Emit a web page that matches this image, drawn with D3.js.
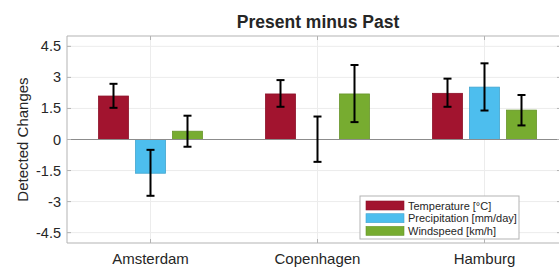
<!DOCTYPE html>
<html>
<head>
<meta charset="utf-8">
<script src="https://cdn.jsdelivr.net/npm/d3@7"></script>
<style>
  body { margin: 0; background: #fff; }
  text { font-family: "Liberation Sans", Arial, Helvetica, sans-serif; fill: #262626; }
</style>
</head>
<body>
<div id="chart"></div>
<script>
// data
const cities = ["Amsterdam", "Copenhagen", "Hamburg"];
const seriesNames = ["Temperature [°C]", "Precipitation [mm/day]", "Windspeed [km/h]"];
const seriesColors = ["#A2142F", "#4DBEEE", "#77AC30"];
const temperature = [2.1, 2.2, 2.23];
const precipitation = [-1.63, 0, 2.53];
const windspeed = [0.4, 2.2, 1.42];
const errLow = [[1.53, 1.58, 1.58], [-2.72, -1.08, 1.4], [-0.35, 0.84, 0.68]];
const errHigh = [[2.69, 2.87, 2.94], [-0.5, 1.11, 3.68], [1.15, 3.6, 2.15]];
const yTicks = [-4.5, -3, -1.5, 0, 1.5, 3, 4.5];

const values = [temperature, precipitation, windspeed];

const w = 559, h = 268;
const padLeft = 67, padTop = 36, padBottom = 243;

const svg = d3.select("#chart").append("svg")
  .attr("width", w).attr("height", h);

const xScale = d3.scaleLinear().domain([0.5, 3.5]).range([padLeft, padLeft + 501]);
const yScale = d3.scaleLinear().domain([-5, 5]).range([padBottom, padTop]);

// grid
svg.append("g").selectAll("line").data(yTicks).enter().append("line")
  .attr("x1", padLeft).attr("x2", w)
  .attr("y1", d => yScale(d)).attr("y2", d => yScale(d))
  .attr("stroke", "#ececec").attr("stroke-width", 1);
svg.append("g").selectAll("line").data(cities).enter().append("line")
  .attr("x1", (d, i) => xScale(i + 1)).attr("x2", (d, i) => xScale(i + 1))
  .attr("y1", padTop).attr("y2", padBottom)
  .attr("stroke", "#ececec").attr("stroke-width", 1);

// bars
const offsets = [-37, 0, 37];
const barW = 30;
values.forEach((vals, s) => {
  svg.append("g").selectAll("rect").data(vals).enter().append("rect")
    .attr("x", (d, i) => xScale(i + 1) + offsets[s] - barW / 2)
    .attr("y", d => yScale(Math.max(0, d)))
    .attr("width", barW)
    .attr("height", d => Math.abs(yScale(d) - yScale(0)))
    .attr("fill", seriesColors[s])
    .attr("stroke", d3.color(seriesColors[s]).darker(0.4))
    .attr("stroke-width", 0.8);
});

// zero line
svg.append("line")
  .attr("x1", padLeft).attr("x2", w)
  .attr("y1", yScale(0)).attr("y2", yScale(0))
  .attr("stroke", "#8c8c8c").attr("stroke-width", 1.2);

// error bars
values.forEach((vals, s) => {
  const g = svg.append("g").attr("stroke", "#000").attr("stroke-width", 2);
  vals.forEach((v, i) => {
    const cx = xScale(i + 1) + offsets[s];
    const lo = yScale(errLow[s][i]), hi = yScale(errHigh[s][i]);
    g.append("line").attr("x1", cx).attr("x2", cx).attr("y1", lo).attr("y2", hi);
    g.append("line").attr("x1", cx - 4).attr("x2", cx + 4).attr("y1", lo).attr("y2", lo);
    g.append("line").attr("x1", cx - 4).attr("x2", cx + 4).attr("y1", hi).attr("y2", hi);
  });
});

// axes box
svg.append("line").attr("x1", padLeft).attr("x2", padLeft).attr("y1", padTop).attr("y2", padBottom)
  .attr("stroke", "#b3b3b3");
svg.append("line").attr("x1", padLeft).attr("x2", w).attr("y1", padTop).attr("y2", padTop)
  .attr("stroke", "#b3b3b3");
svg.append("line").attr("x1", padLeft).attr("x2", w).attr("y1", padBottom).attr("y2", padBottom)
  .attr("stroke", "#b3b3b3");

// ticks
yTicks.forEach(t => {
  svg.append("line").attr("x1", padLeft).attr("x2", padLeft + 4)
    .attr("y1", yScale(t)).attr("y2", yScale(t)).attr("stroke", "#b3b3b3");
  svg.append("line").attr("x1", w - 2).attr("x2", w)
    .attr("y1", yScale(t)).attr("y2", yScale(t)).attr("stroke", "#b3b3b3");
  svg.append("text").attr("x", padLeft - 6).attr("y", yScale(t) + 5)
    .attr("text-anchor", "end").attr("font-size", 14.5).text(t);
});
cities.forEach((c, i) => {
  svg.append("line").attr("x1", xScale(i + 1)).attr("x2", xScale(i + 1))
    .attr("y1", padBottom).attr("y2", padBottom - 4).attr("stroke", "#b3b3b3");
  svg.append("line").attr("x1", xScale(i + 1)).attr("x2", xScale(i + 1))
    .attr("y1", padTop).attr("y2", padTop + 4).attr("stroke", "#b3b3b3");
  svg.append("text").attr("x", xScale(i + 1)).attr("y", 264)
    .attr("text-anchor", "middle").attr("font-size", 15).text(c);
});

// labels
svg.append("text")
  .attr("transform", "translate(28," + ((padTop + padBottom) / 2) + ") rotate(-90)")
  .attr("text-anchor", "middle").attr("font-size", 15).text("Detected Changes");
svg.append("text").attr("x", 318).attr("y", 28)
  .attr("text-anchor", "middle").attr("font-size", 17.5).attr("font-weight", "bold")
  .attr("fill", "#000").text("Present minus Past");

// legend
const lg = svg.append("g").attr("transform", "translate(360,196)");
lg.append("rect").attr("width", 159).attr("height", 43)
  .attr("fill", "#fff").attr("stroke", "#b3b3b3");
seriesNames.forEach((n, i) => {
  lg.append("rect").attr("x", 6).attr("y", 5 + i * 12.7).attr("width", 38).attr("height", 9)
    .attr("fill", seriesColors[i]).attr("stroke", d3.color(seriesColors[i]).darker(0.4)).attr("stroke-width", 0.6);
  lg.append("text").attr("x", 48).attr("y", 13.5 + i * 12.7)
    .attr("font-size", 11).text(n);
});
</script>
</body>
</html>
